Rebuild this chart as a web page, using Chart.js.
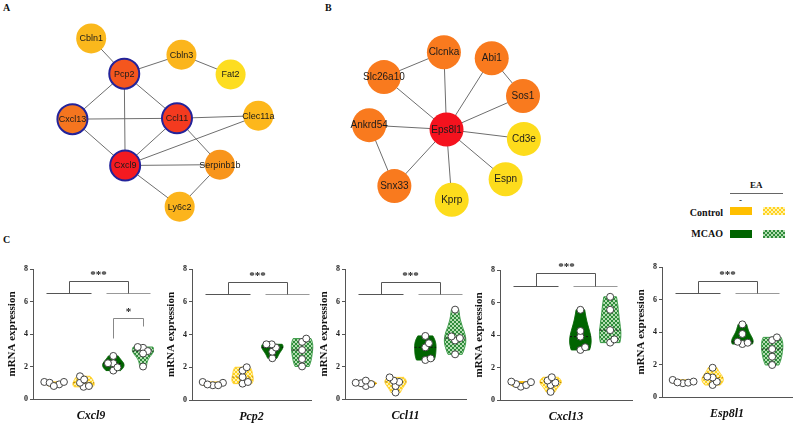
<!DOCTYPE html>
<html>
<head>
<meta charset="utf-8">
<script src="https://cdn.jsdelivr.net/npm/chart.js@4.4.0/dist/chart.umd.min.js"></script>
<style>
  body { margin: 0; background: #fff; width: 797px; height: 423px; position: relative; overflow: hidden; font-family: "Liberation Serif", "Times New Roman", serif; }
  .box { position: absolute; }
  .txt { position: absolute; font-weight: bold; color: #111; white-space: nowrap; line-height: 1; }
  .sw { position: absolute; width: 22px; height: 8px; }
</style>
</head>
<body>
<div class="txt" style="left:3px;top:3px;font-size:10px;">A</div>
<div class="txt" style="left:325px;top:3px;font-size:10px;">B</div>
<div class="txt" style="left:3px;top:235px;font-size:10px;">C</div>

<!-- legend -->
<div class="txt" style="left:750px;top:181px;font-size:9px;">EA</div>
<div style="position:absolute;left:730px;top:193px;width:53px;height:1px;background:#666;"></div>
<div class="txt" style="left:739px;top:196px;font-size:9px;">-</div>
<div class="txt" style="right:74px;top:208px;font-size:10px;">Control</div>
<div class="sw" style="left:730px;top:207px;background:#FFBF00;"></div>
<div class="sw" style="left:763px;top:207px;background:repeating-conic-gradient(#FFD21F 0% 25%, #FFF2B0 0% 50%) 0 0/4px 4px;"></div>
<div class="txt" style="right:74px;top:229px;font-size:10px;">MCAO</div>
<div class="sw" style="left:730px;top:230px;background:#006400;"></div>
<div class="sw" style="left:763px;top:230px;background:repeating-conic-gradient(#2E8B3A 0% 25%, #B4DEB2 0% 50%) 0 0/4px 4px;"></div>

<div class="box" style="left:0;top:0;"><canvas id="netA" width="320" height="240"></canvas></div>
<div class="box" style="left:320px;top:0;"><canvas id="netB" width="260" height="240"></canvas></div>
<div id="panelC"></div>

<script>
// network A ===================================================
const netANames = ["Cbln1", "Pcp2", "Cbln3", "Fat2", "Cxcl13", "Ccl11", "Clec11a", "Cxcl9", "Serpinb1b", "Ly6c2"];
const netAX = [83, 120, 184, 239, 62, 179, 270, 121, 227, 182];
const netAY = [25, 66, 44, 67, 119, 118, 115, 173, 172, 221];
const netAColors = ["#FAB81C", "#F4561E", "#FBB51C", "#FDDD20", "#F5751F", "#F43A1F", "#FDB71B", "#F41A21", "#F8951C", "#FCB41C"];
const netAHubs = ["Pcp2", "Cxcl13", "Ccl11", "Cxcl9"];
const netAEdges = [
  ["Cbln1", "Pcp2"], ["Pcp2", "Cbln3"], ["Cbln3", "Fat2"], ["Pcp2", "Cxcl13"], ["Pcp2", "Cxcl9"],
  ["Pcp2", "Ccl11"], ["Cxcl13", "Ccl11"], ["Ccl11", "Clec11a"], ["Cxcl13", "Cxcl9"], ["Ccl11", "Cxcl9"],
  ["Ccl11", "Serpinb1b"], ["Cxcl9", "Clec11a"], ["Cxcl9", "Serpinb1b"], ["Cxcl9", "Ly6c2"], ["Serpinb1b", "Ly6c2"]
];

// network B ===================================================
const netBNames = ["Clcnka", "Abi1", "Slc26a10", "Sos1", "Ankrd54", "Eps8l1", "Cd3e", "Snx33", "Espn", "Kprp"];
const netBX = [443, 498, 374, 534, 357, 446, 535, 386, 514, 452];
const netBY = [41, 48, 70, 92, 126, 131, 142, 197, 189, 213];
const netBColors = ["#F97A1E", "#F97A1E", "#F97A1E", "#F97A1E", "#F97A1E", "#F5121E", "#FDDC1C", "#F97A1E", "#FDDC1C", "#FDDC1C"];
const netBEdges = [
  ["Eps8l1", "Clcnka"], ["Eps8l1", "Abi1"], ["Eps8l1", "Slc26a10"], ["Eps8l1", "Sos1"], ["Eps8l1", "Ankrd54"],
  ["Eps8l1", "Cd3e"], ["Eps8l1", "Snx33"], ["Eps8l1", "Espn"], ["Eps8l1", "Kprp"],
  ["Slc26a10", "Clcnka"], ["Abi1", "Sos1"], ["Ankrd54", "Snx33"]
];

// panel C =====================================================
const genes = ["Cxcl9", "Pcp2", "Ccl11", "Cxcl13", "Esp8l1"];
const groups = ["Control", "Control + EA", "MCAO", "MCAO + EA"];
const cxcl9 = [[0.9, 1.05, 1.0, 1.05, 0.8], [0.75, 1.0, 1.4, 1.2, 0.8], [1.75, 2.2, 2.65, 2.2, 1.95], [3.15, 3.2, 2.95, 2.8, 2.0]];
const pcp2 = [[0.9, 1.05, 1.1, 0.95, 0.9], [1.0, 1.1, 1.4, 1.8, 2.0], [2.55, 2.95, 3.2, 3.4, 3.4], [2.05, 2.5, 3.05, 3.55, 3.75]];
const ccl11 = [[0.8, 0.92, 0.97, 1.0, 1.13], [0.4, 0.8, 1.05, 1.13, 1.33], [2.4, 2.5, 3.18, 3.43, 3.88], [2.75, 3.6, 3.75, 3.85, 5.5]];
const cxcl13 = [[0.82, 0.92, 0.98, 1.1, 1.13], [0.5, 0.92, 1.07, 1.2, 1.4], [3.08, 3.25, 3.9, 4.25, 5.55], [3.53, 3.73, 4.3, 5.55, 6.35]];
const esp8l1 = [[0.85, 0.88, 0.95, 1.05, 0.9], [0.74, 0.94, 1.2, 1.25, 1.8], [3.26, 3.34, 3.4, 3.88, 4.47], [1.97, 2.48, 2.95, 3.5, 3.67]];
const geneData = [cxcl9, pcp2, ccl11, cxcl13, esp8l1];
const yTicks = [0, 2, 4, 6, 8];
const sigTop = [7.25, 7.2, 7.2, 7.8, 7.15];
const sigLow = [6.5, 6.45, 6.45, 7.0, 6.4];
const sigMarks = ["***", "***", "***", "***", "***"];

// layout of the five small plots (y axis x, top/bottom of area, x axis end)
const layoutC = [
  { ax: 33, top: 269, bot: 399, end: 150 },
  { ax: 192, top: 269, bot: 400, end: 312 },
  { ax: 345, top: 269, bot: 399, end: 467 },
  { ax: 500, top: 270, bot: 400, end: 633 },
  { ax: 662, top: 267, bot: 397, end: 793 }
];

//network=====================================================
function netChart(id, names, xs, ys, colors, hubs, edges, radius, fontSize, xmin, xmax) {
  const idx = n => names.indexOf(n);
  const nodeSet = {
    data: names.map((n, i) => ({ x: xs[i], y: ys[i] })),
    pointRadius: radius,
    pointBackgroundColor: colors,
    pointBorderColor: "#23239A",
    pointBorderWidth: names.map(n => (hubs.includes(n) ? 2 : 0)),
    showLine: false,
    clip: false,
    order: 0
  };
  const edgeSets = edges.map(e => ({
    data: [{ x: xs[idx(e[0])], y: ys[idx(e[0])] }, { x: xs[idx(e[1])], y: ys[idx(e[1])] }],
    showLine: true,
    borderColor: "#6e6e6e",
    borderWidth: 1,
    pointRadius: 0,
    clip: false,
    order: 1
  }));
  const labels = {
    id: "nodeLabels",
    afterDatasetsDraw(chart) {
      const ctx = chart.ctx;
      ctx.save();
      ctx.font = fontSize + 'px "Liberation Sans", Arial, sans-serif';
      ctx.fillStyle = "#1b1b1b";
      ctx.textAlign = "center";
      ctx.textBaseline = "middle";
      names.forEach((n, i) => {
        ctx.fillText(n, chart.scales.x.getPixelForValue(xs[i]), chart.scales.y.getPixelForValue(ys[i]) + 0.5);
      });
      ctx.restore();
    }
  };
  new Chart(document.getElementById(id), {
    type: "scatter",
    data: { datasets: [nodeSet].concat(edgeSets) },
    options: {
      responsive: false,
      animation: false,
      events: [],
      layout: { padding: 0 },
      plugins: { legend: { display: false }, tooltip: { enabled: false } },
      scales: {
        x: { type: "linear", min: xmin, max: xmax, display: false },
        y: { type: "linear", min: 0, max: 240, reverse: true, display: false }
      }
    },
    plugins: [labels]
  });
}

netChart("netA", netANames, netAX, netAY, netAColors, netAHubs, netAEdges, 15, 9, 0, 320);
netChart("netB", netBNames, netBX, netBY, netBColors, [], netBEdges, 17, 10, 320, 580);

//violin helpers===============================================
function checker(c1, c2) {
  const off = document.createElement("canvas");
  off.width = 4; off.height = 4;
  const o = off.getContext("2d");
  o.fillStyle = c2; o.fillRect(0, 0, 4, 4);
  o.fillStyle = c1; o.fillRect(0, 0, 2, 2); o.fillRect(2, 2, 2, 2);
  return o.createPattern(off, "repeat");
}
const fills = ["#FFBF00", checker("#FFD21F", "#FFF2B0"), "#006400", checker("#2E8B3A", "#B4DEB2")];
const strokes = ["#FFBF00", "#FFCF2A", "#006400", "#3A9A46"];

function median(v) {
  const s = v.slice().sort((a, b) => a - b);
  const m = Math.floor(s.length / 2);
  return s.length % 2 ? s[m] : (s[m - 1] + s[m]) / 2;
}
function bandwidth(v) {
  const mean = v.reduce((a, b) => a + b, 0) / v.length;
  const sd = Math.sqrt(v.reduce((a, b) => a + (b - mean) * (b - mean), 0) / (v.length - 1));
  return Math.max(0.06, 1.06 * sd * Math.pow(v.length, -0.2));
}
function dens(v, y, h) {
  let s = 0;
  v.forEach(p => { s += Math.exp(-0.5 * ((y - p) / h) * ((y - p) / h)); });
  return s;
}

// loose beeswarm in pixel space (dots may overlap a little), x offsets in data units
function swarm(vals, pxX, pxY) {
  const order = vals.map((v, i) => i).sort((a, b) => vals[a] - vals[b]);
  const placed = [];
  const offs = new Array(vals.length).fill(0);
  order.forEach(i => {
    for (let k = 0; k < 60; k++) {
      const step = Math.ceil(k / 2) * 0.02 * (k % 2 ? 1 : -1);
      const ok = placed.every(p => {
        const dx = (p.x - step) * pxX, dy = (p.y - vals[i]) * pxY;
        return dx * dx + dy * dy >= 5.2 * 5.2;
      });
      if (ok) { offs[i] = step; placed.push({ x: step, y: vals[i] }); break; }
    }
  });
  return offs;
}

//panel C charts==============================================
const holder = document.getElementById("panelC");
genes.forEach((gene, gi) => {
  const L = layoutC[gi];
  const left = L.ax - 33, top = L.top - 18;
  const w = L.end - left + 4, h = L.bot - top + 24;
  const div = document.createElement("div");
  div.className = "box";
  div.style.left = left + "px";
  div.style.top = top + "px";
  const cv = document.createElement("canvas");
  cv.width = w; cv.height = h;
  div.appendChild(cv);
  holder.appendChild(div);

  const data = geneData[gi];
  const pxX = 30, pxY = (L.bot - L.top) / 8;
  const pts = [];
  data.forEach((vals, g) => {
    const offs = swarm(vals, pxX, pxY);
    vals.forEach((v, i) => pts.push({ x: g + 1 + offs[i], y: v }));
  });

  const violins = {
    id: "violins",
    beforeDatasetsDraw(chart) {
      const ctx = chart.ctx, xs = chart.scales.x, ys = chart.scales.y;
      data.forEach((vals, g) => {
        const hw = bandwidth(vals);
        const lo = Math.min(...vals), hi = Math.max(...vals);
        const n = 40, ysamp = [], ws = [];
        let mx = 0;
        for (let k = 0; k <= n; k++) {
          const y = lo + (hi - lo) * k / n;
          const d = dens(vals, y, hw);
          ysamp.push(y); ws.push(d); mx = Math.max(mx, d);
        }
        const half = 0.36;
        ctx.save();
        ctx.beginPath();
        ysamp.forEach((y, k) => {
          const px = xs.getPixelForValue(g + 1 - ws[k] / mx * half), py = ys.getPixelForValue(y);
          k ? ctx.lineTo(px, py) : ctx.moveTo(px, py);
        });
        for (let k = n; k >= 0; k--) {
          ctx.lineTo(xs.getPixelForValue(g + 1 + ws[k] / mx * half), ys.getPixelForValue(ysamp[k]));
        }
        ctx.closePath();
        ctx.fillStyle = fills[g];
        ctx.fill();
        ctx.strokeStyle = strokes[g];
        ctx.lineWidth = 1;
        ctx.stroke();
        const md = median(vals);
        const wm = dens(vals, md, hw) / mx * half;
        ctx.setLineDash([2, 2]);
        ctx.strokeStyle = g < 2 ? "#b07a00" : "#111";
        ctx.beginPath();
        ctx.moveTo(xs.getPixelForValue(g + 1 - wm), ys.getPixelForValue(md));
        ctx.lineTo(xs.getPixelForValue(g + 1 + wm), ys.getPixelForValue(md));
        ctx.stroke();
        ctx.restore();
      });
    },
    afterDatasetsDraw(chart) {
      const ctx = chart.ctx, xs = chart.scales.x, ys = chart.scales.y;
      const X = v => Math.round(xs.getPixelForValue(v)) + 0.5;
      const Y = v => Math.round(ys.getPixelForValue(v)) + 0.5;
      const line = (pts, col) => {
        ctx.strokeStyle = col;
        ctx.beginPath();
        pts.forEach((p, k) => (k ? ctx.lineTo(X(p[0]), Y(p[1])) : ctx.moveTo(X(p[0]), Y(p[1]))));
        ctx.stroke();
      };
      ctx.save();
      ctx.lineWidth = 1;
      const t = sigTop[gi], b = sigLow[gi];
      line([[0.75, b], [2.25, b]], "#555");
      line([[2.75, b], [4.22, b]], "#999");
      line([[1.5, b], [1.5, t], [3.5, t], [3.5, b]], "#555");
      ctx.fillStyle = "#222";
      ctx.textAlign = "center";
      ctx.textBaseline = "middle";
      ctx.font = 'bold 11px "Liberation Serif", serif';
      ctx.fillText(sigMarks[gi], X(2.5), Y(t) - 6);
      if (gene === "Cxcl9") {
        line([[3, 3.75], [3, 5.0], [4, 5.0], [4, 4.5]], "#888");
        ctx.fillText("*", X(3.5), Y(5.0) - 6);
      }
      ctx.restore();
    }
  };

  new Chart(cv, {
    type: "scatter",
    data: {
      datasets: [{
        data: pts,
        pointRadius: 3.5,
        pointBackgroundColor: "#fff",
        pointBorderColor: "#444",
        pointBorderWidth: 1,
        clip: false
      }]
    },
    options: {
      responsive: false,
      animation: false,
      events: [],
      layout: { padding: { top: 18, right: 4, left: 0, bottom: 0 } },
      plugins: { legend: { display: false }, tooltip: { enabled: false } },
      scales: {
        x: {
          type: "linear",
          min: 0.3,
          max: 0.3 + (L.end - L.ax) / 30,
          grid: { display: false },
          ticks: { display: false },
          border: { display: true, color: "#555", width: 1 },
          title: {
            display: true,
            text: gene,
            color: "#111",
            font: { family: '"Liberation Serif", serif', size: 12, weight: "bold", style: "italic" },
            padding: { top: 0, bottom: 0 }
          },
          afterFit: s => { s.height = 24; }
        },
        y: {
          type: "linear",
          min: 0,
          max: 8,
          afterBuildTicks: s => { s.ticks = yTicks.map(v => ({ value: v })); },
          grid: { display: true, drawOnChartArea: false, drawTicks: true, tickLength: 3, color: "#555" },
          border: { display: true, color: "#555", width: 1 },
          ticks: { color: "#222", padding: 2, font: { family: '"Liberation Serif", serif', size: 8, weight: "bold" } },
          title: {
            display: true,
            text: "mRNA expression",
            color: "#111",
            font: { family: '"Liberation Serif", serif', size: 11, weight: "bold" },
            padding: { top: 6, bottom: 0 }
          },
          afterFit: s => { s.width = 33; }
        }
      }
    },
    plugins: [violins]
  });
});
</script>
</body>
</html>
